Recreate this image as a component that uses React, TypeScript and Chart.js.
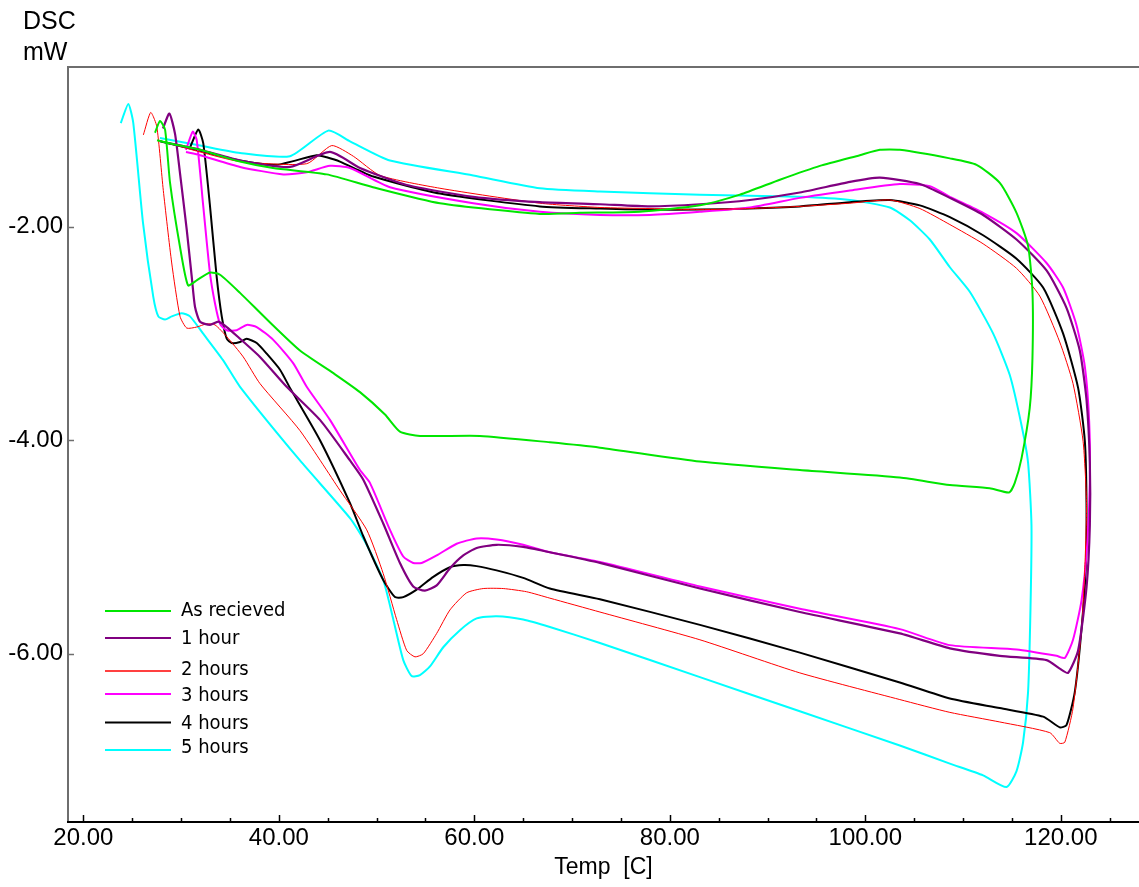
import React, { useEffect, useRef } from 'react';
import { Chart, registerables } from 'chart.js';

Chart.register(...registerables);

// ---------- data (Temp [C], DSC [mW]) ----------
const seriesLabels = ['As recieved', '1 hour', '2 hours', '3 hours', '4 hours', '5 hours'];
const seriesColors = ['#00e600', '#800080', '#ff0000', '#ff00ff', '#000000', '#00ffff'];
const seriesWidths = [2, 2.2, 1, 2, 2, 2];

const asRecieved: [number, number][] = [
  [27.33, -1.12], [27.84, -1.01], [28.36, -1.09], [28.87, -1.59], [29.89, -2.19], [30.71, -2.55],
  [31.63, -2.5], [32.96, -2.43], [33.98, -2.45], [36.03, -2.62], [38.79, -2.87], [42.16, -3.16],
  [45.54, -3.37], [48.3, -3.55], [50.86, -3.76], [52.39, -3.92], [54.44, -3.96], [60.57, -3.96],
  [67.73, -4.02], [72.85, -4.07], [83.08, -4.2], [93.3, -4.28], [103.53, -4.35], [108.65, -4.42],
  [112.73, -4.45], [114.71, -4.49], [115.29, -4.4], [115.98, -4.17], [116.82, -3.7], [117.1, -3.23],
  [117.1, -2.61], [116.65, -2.18], [115.47, -1.87], [113.76, -1.59], [111.38, -1.42], [108.65, -1.36],
  [103.53, -1.28], [101.49, -1.28], [99.44, -1.33], [95.35, -1.43], [91.26, -1.56], [87.17, -1.7],
  [83.08, -1.8], [76.94, -1.86], [70.8, -1.87], [66.71, -1.88], [56.48, -1.78], [49.63, -1.63],
  [44.9, -1.51], [39.4, -1.45], [36.03, -1.39], [31.94, -1.28], [28.87, -1.22], [27.54, -1.19],
];

const oneHour: [number, number][] = [
  [28.15, -1.08], [28.8, -0.94], [29.38, -1.13], [29.89, -1.5], [30.58, -2.03], [31.09, -2.47],
  [31.42, -2.75], [31.94, -2.89], [32.96, -2.92], [33.81, -2.89], [34.67, -2.94], [36.03, -3.05],
  [38.07, -3.22], [40.8, -3.5], [44.21, -3.81], [47.28, -4.19], [48.64, -4.37], [50.68, -4.78],
  [52.39, -5.15], [53.75, -5.37], [54.95, -5.41], [56.15, -5.36], [57.51, -5.2], [58.87, -5.08],
  [60.24, -5.01], [62.28, -4.98], [65.0, -5.0], [67.73, -5.05], [72.85, -5.15], [83.08, -5.39],
  [93.3, -5.61], [103.53, -5.81], [108.65, -5.95], [113.76, -6.02], [118.54, -6.06], [119.89, -6.14],
  [120.74, -6.18], [121.77, -5.97], [122.63, -5.38], [122.97, -4.8], [122.97, -4.21], [122.63, -3.62],
  [121.94, -3.16], [120.58, -2.76], [118.54, -2.41], [115.47, -2.12], [112.05, -1.89], [108.65, -1.73],
  [105.58, -1.6], [101.49, -1.54], [98.42, -1.58], [93.3, -1.68], [88.19, -1.75], [83.08, -1.79],
  [77.96, -1.81], [72.85, -1.79], [66.71, -1.77], [59.89, -1.72], [53.08, -1.61], [48.3, -1.45],
  [45.23, -1.3], [41.14, -1.44], [36.03, -1.38], [31.94, -1.28], [28.36, -1.21],
];

const twoHours: [number, number][] = [
  [26.14, -1.14], [26.89, -0.93], [27.51, -1.06], [28.18, -1.66], [29.04, -2.34], [29.89, -2.84],
  [30.58, -2.95], [31.6, -2.94], [32.62, -2.91], [33.47, -2.92], [34.67, -3.03], [36.36, -3.22],
  [38.07, -3.47], [42.16, -3.91], [46.25, -4.47], [48.99, -4.84], [50.68, -5.25], [52.05, -5.68],
  [53.08, -5.97], [53.93, -6.03], [54.78, -6.0], [56.15, -5.81], [57.51, -5.59], [59.21, -5.43],
  [60.91, -5.39], [62.96, -5.39], [65.35, -5.42], [67.73, -5.48], [72.85, -5.61], [83.08, -5.87],
  [93.3, -6.18], [103.53, -6.43], [108.65, -6.55], [113.76, -6.64], [118.87, -6.74], [119.89, -6.84],
  [120.41, -6.83], [121.25, -6.51], [122.12, -5.77], [122.46, -5.19], [122.63, -4.6], [122.28, -4.01],
  [121.25, -3.47], [119.89, -3.08], [117.85, -2.65], [115.47, -2.39], [112.05, -2.16], [108.65, -1.98],
  [105.58, -1.83], [102.51, -1.75], [98.42, -1.78], [93.3, -1.81], [88.19, -1.83], [83.08, -1.84],
  [77.96, -1.83], [72.85, -1.82], [66.71, -1.78], [56.48, -1.64], [50.35, -1.52], [47.62, -1.34],
  [45.41, -1.24], [42.85, -1.41], [36.03, -1.39], [31.94, -1.3], [27.64, -1.19],
];

const threeHours: [number, number][] = [
  [30.5, -1.28], [31.19, -1.11], [31.6, -1.19], [32.27, -1.81], [32.96, -2.44], [33.47, -2.72],
  [33.98, -2.91], [34.67, -2.97], [35.69, -2.97], [36.71, -2.92], [37.74, -2.94], [39.43, -3.06],
  [41.48, -3.28], [42.85, -3.5], [45.23, -3.81], [48.3, -4.28], [49.32, -4.4], [51.37, -4.84],
  [52.73, -5.09], [53.75, -5.15], [54.61, -5.15], [56.15, -5.08], [58.19, -4.97], [60.24, -4.92],
  [62.28, -4.93], [65.0, -4.98], [67.73, -5.05], [72.85, -5.14], [83.08, -5.37], [93.3, -5.58],
  [103.53, -5.77], [108.65, -5.92], [115.47, -5.96], [119.56, -6.02], [120.41, -6.04], [121.25, -5.87],
  [122.12, -5.5], [122.69, -4.99], [122.97, -4.4], [122.9, -3.82], [122.46, -3.31], [121.6, -2.92],
  [120.23, -2.57], [118.54, -2.34], [115.47, -2.06], [112.05, -1.87], [108.65, -1.72], [106.6, -1.62],
  [103.53, -1.6], [98.42, -1.66], [93.3, -1.73], [88.19, -1.82], [83.08, -1.86], [77.96, -1.89],
  [72.85, -1.89], [66.71, -1.86], [59.89, -1.78], [51.37, -1.63], [47.28, -1.45], [45.23, -1.43],
  [42.85, -1.49], [40.46, -1.51], [36.03, -1.44], [31.94, -1.33], [30.5, -1.3],
];

const fourHours: [number, number][] = [
  [30.91, -1.26], [31.76, -1.09], [32.27, -1.22], [32.96, -1.81], [33.64, -2.47], [34.16, -2.84],
  [34.67, -3.05], [35.18, -3.09], [36.03, -3.08], [36.71, -3.05], [37.74, -3.09], [38.76, -3.19],
  [40.12, -3.34], [41.14, -3.51], [44.21, -4.0], [47.28, -4.59], [48.64, -4.9], [50.68, -5.31],
  [51.88, -5.47], [52.73, -5.47], [54.1, -5.4], [55.8, -5.28], [57.51, -5.19], [58.87, -5.17],
  [60.24, -5.18], [62.28, -5.22], [65.0, -5.29], [67.73, -5.39], [72.85, -5.49], [83.08, -5.73],
  [93.3, -5.99], [103.53, -6.27], [108.65, -6.42], [113.76, -6.51], [118.19, -6.59], [119.89, -6.69],
  [120.58, -6.67], [121.43, -6.36], [122.12, -5.77], [122.56, -5.19], [122.63, -4.6], [122.46, -4.01],
  [121.77, -3.51], [120.23, -3.0], [118.19, -2.57], [115.47, -2.3], [112.05, -2.08], [108.65, -1.91],
  [105.58, -1.8], [102.51, -1.75], [98.42, -1.77], [93.3, -1.81], [88.19, -1.83], [83.08, -1.84],
  [77.96, -1.84], [72.85, -1.83], [66.71, -1.81], [56.48, -1.69], [49.66, -1.53], [46.25, -1.39],
  [44.9, -1.35], [43.87, -1.33], [39.78, -1.42], [36.03, -1.38], [31.94, -1.29], [27.84, -1.2],
];

const fiveHours: [number, number][] = [
  [23.83, -1.03], [24.6, -0.85], [25.11, -1.03], [26.11, -1.97], [27.16, -2.66], [27.67, -2.84],
  [28.36, -2.87], [29.04, -2.84], [30.06, -2.81], [30.91, -2.84], [32.24, -3.0], [34.29, -3.25],
  [36.03, -3.5], [42.16, -4.19], [47.28, -4.73], [48.81, -4.95], [50.68, -5.31], [51.71, -5.68],
  [52.73, -6.06], [53.59, -6.21], [54.44, -6.2], [55.46, -6.12], [56.82, -5.94], [58.53, -5.78],
  [60.24, -5.67], [62.28, -5.65], [65.0, -5.68], [67.73, -5.75], [72.85, -5.9], [83.08, -6.22],
  [93.3, -6.54], [103.53, -6.86], [108.65, -7.03], [112.05, -7.14], [114.44, -7.25], [115.47, -7.1],
  [116.14, -6.83], [116.65, -6.36], [116.9, -5.57], [117.0, -4.8], [116.65, -4.21], [115.98, -3.86],
  [114.78, -3.39], [113.07, -3.0], [110.69, -2.61], [108.65, -2.38], [106.6, -2.12], [104.55, -1.94],
  [102.51, -1.82], [98.42, -1.75], [93.3, -1.72], [83.08, -1.7], [72.85, -1.67], [66.71, -1.64], [59.89, -1.52],
  [51.37, -1.38], [47.28, -1.2], [45.06, -1.1], [41.14, -1.34], [36.03, -1.31], [31.94, -1.24],
  [27.84, -1.17],
];

const allSeries = [asRecieved, oneHour, twoHours, threeHours, fourHours, fiveHours];

const xMajorTicks = [20, 40, 60, 80, 100, 120];
const xMinorTicks = [25, 30, 35, 45, 50, 55, 65, 70, 75, 85, 90, 95, 105, 110, 115, 125];
const yMajorTicks = [-2, -4, -6];
const xRange = [18.43, 128];
const yRange = [-7.577, -0.504];

const xTitle = 'Temp  [C]';
const yTitleLines = ['DSC', 'mW'];

// ---------- helpers ----------
function hasFont(name: string): boolean {
  const c = document.createElement('canvas').getContext('2d');
  if (!c) return false;
  const s = 'abcdefghijklmnopqrstuvwxyz0123456789';
  c.font = '40px monospace';
  const base = c.measureText(s).width;
  c.font = `40px "${name}", monospace`;
  return c.measureText(s).width !== base;
}

export default function App() {
  const ref = useRef<HTMLCanvasElement | null>(null);

  useEffect(() => {
    if (!ref.current) return;
    const narrow = hasFont('Liberation Sans Narrow');
    const condensed = hasFont('DejaVu Sans Condensed');
    const yTickFont = narrow
      ? { family: '"Liberation Sans Narrow", "Liberation Sans", Arial, sans-serif', size: 25 }
      : { family: '"Liberation Sans", Arial, sans-serif', size: 24 };
    const legendFont = condensed
      ? '20px "DejaVu Sans Condensed", "Liberation Sans", sans-serif'
      : '20px "Liberation Sans", Arial, sans-serif';

    const legendLineY = [611, 638, 671, 694, 722.5, 750];
    const legendTextY = [616, 644, 675, 701, 729, 753];

    const framePlugin = {
      id: 'dscFrame',
      beforeDatasetsDraw(chart: any) {
        const { ctx, chartArea: a, scales } = chart;
        const x = scales.x;
        const y = scales.y;
        ctx.save();
        ctx.lineCap = 'butt';
        // top border and left axis (grey)
        ctx.strokeStyle = '#6e6e6e';
        ctx.lineWidth = 2;
        ctx.beginPath();
        ctx.moveTo(a.left - 1, a.top);
        ctx.lineTo(chart.width, a.top);
        ctx.moveTo(a.left, a.top);
        ctx.lineTo(a.left, a.bottom);
        ctx.stroke();
        ctx.lineWidth = 1.5;
        for (const v of yMajorTicks) {
          const py = Math.round(y.getPixelForValue(v)) + 0.5;
          ctx.beginPath();
          ctx.moveTo(a.left, py);
          ctx.lineTo(a.left + 6, py);
          ctx.stroke();
        }
        // bottom axis (black)
        ctx.strokeStyle = '#000';
        ctx.lineWidth = 2;
        ctx.beginPath();
        ctx.moveTo(a.left - 1, a.bottom);
        ctx.lineTo(chart.width, a.bottom);
        ctx.stroke();
        ctx.lineWidth = 1.5;
        for (const v of xMinorTicks) {
          const px = Math.round(x.getPixelForValue(v)) + 0.5;
          ctx.beginPath();
          ctx.moveTo(px, a.bottom);
          ctx.lineTo(px, a.bottom - 4);
          ctx.stroke();
        }
        for (const v of xMajorTicks) {
          const px = Math.round(x.getPixelForValue(v)) + 0.5;
          ctx.beginPath();
          ctx.moveTo(px, a.bottom);
          ctx.lineTo(px, a.bottom - 7);
          ctx.stroke();
        }
        ctx.restore();
      },
      afterDatasetsDraw(chart: any) {
        const { ctx, chartArea: a } = chart;
        ctx.save();
        // legend inside plot
        ctx.font = legendFont;
        ctx.textAlign = 'left';
        ctx.textBaseline = 'alphabetic';
        chart.data.datasets.forEach((ds: any, i: number) => {
          ctx.strokeStyle = ds.borderColor;
          ctx.lineWidth = i === 2 ? 1.5 : 2;
          ctx.beginPath();
          ctx.moveTo(105, legendLineY[i]);
          ctx.lineTo(171, legendLineY[i]);
          ctx.stroke();
          ctx.fillStyle = '#000';
          ctx.fillText(ds.label, 181, legendTextY[i]);
        });
        // axis titles
        ctx.fillStyle = '#000';
        ctx.font = '23px "Liberation Sans", Arial, sans-serif';
        ctx.textAlign = 'center';
        ctx.fillText(xTitle, (a.left + a.right) / 2, 874);
        ctx.font = '25px "Liberation Sans", Arial, sans-serif';
        ctx.textAlign = 'left';
        ctx.fillText(yTitleLines[0], 23, 29);
        ctx.fillText(yTitleLines[1], 23, 60);
        ctx.restore();
      },
    };

    const chart = new Chart(ref.current, {
      type: 'scatter',
      data: {
        datasets: allSeries.map((s, i) => ({
          label: seriesLabels[i],
          data: s.map(([t, d]) => ({ x: t, y: d })),
          showLine: true,
          borderColor: seriesColors[i],
          backgroundColor: seriesColors[i],
          borderWidth: seriesWidths[i],
          pointRadius: 0,
          pointHoverRadius: 0,
          tension: 0.2,
          fill: false,
        })),
      },
      options: {
        responsive: false,
        animation: false,
        devicePixelRatio: 1,
        events: [],
        layout: { padding: { top: 67, left: 0, right: 0, bottom: 0 } },
        plugins: {
          legend: { display: false },
          tooltip: { enabled: false },
          title: { display: false },
        },
        scales: {
          x: {
            type: 'linear',
            min: xRange[0],
            max: xRange[1],
            grid: { display: false, drawTicks: false },
            border: { display: false },
            ticks: {
              color: '#000',
              padding: 2,
              autoSkip: false,
              maxRotation: 0,
              font: { family: '"Liberation Sans", Arial, sans-serif', size: 24 },
              callback: (v: any) => Number(v).toFixed(2),
            },
            afterBuildTicks: (s: any) => {
              s.ticks = xMajorTicks.map((v) => ({ value: v }));
            },
            afterFit: (s: any) => {
              s.height = 65;
            },
          },
          y: {
            type: 'linear',
            min: yRange[0],
            max: yRange[1],
            grid: { display: false, drawTicks: false },
            border: { display: false },
            ticks: {
              color: '#000',
              padding: 5,
              autoSkip: false,
              font: yTickFont,
              callback: (v: any) => Number(v).toFixed(2),
            },
            afterBuildTicks: (s: any) => {
              s.ticks = yMajorTicks.map((v) => ({ value: v }));
            },
            afterFit: (s: any) => {
              s.width = 68;
            },
          },
        },
      } as any,
      plugins: [framePlugin],
    });

    return () => chart.destroy();
  }, []);

  return (
    <div style={{ position: 'absolute', left: 0, top: 0, width: 1139, height: 887, background: '#fff' }}>
      <canvas ref={ref} width={1139} height={887} style={{ display: 'block', width: 1139, height: 887 }} />
    </div>
  );
}
